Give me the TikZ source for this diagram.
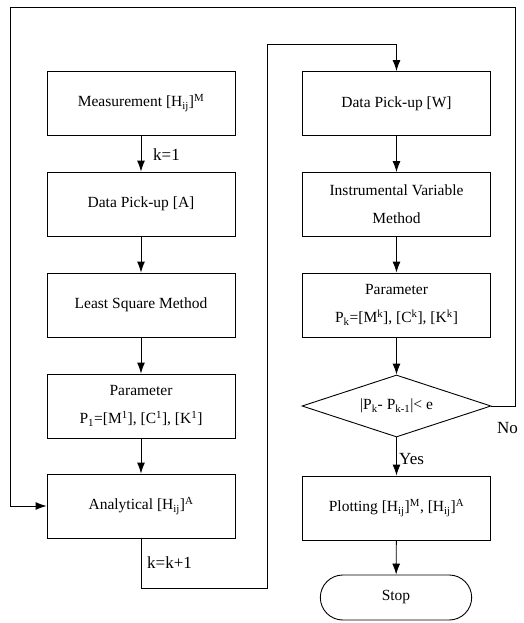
\documentclass[tikz,border=0pt]{standalone}
\usepackage{fontspec}
\setmainfont{Liberation Serif}
\usetikzlibrary{arrows.meta,shapes.geometric,shapes.misc}

\tikzset{
  box/.style={draw,line width=0.9pt,minimum width=188pt,minimum height=64pt,align=center,inner sep=2pt},
  arr/.style={-{Latex[length=11pt,width=8pt]},line width=0.9pt},
  lbl/.style={anchor=west,inner sep=0pt,font=\fontsize{17}{20}\selectfont}
}

\begin{document}
\begin{tikzpicture}[x=1pt,y=-1pt,font=\fontsize{15.5}{28}\selectfont]
\useasboundingbox (0,0) rectangle (523,623);

% Measurement
\node[box] (meas) at (141,103) {Measurement [H\textsubscript{ij}]\textsuperscript{M}};
% Data Pick-up A
\node[box] (pickA) at (141,204) {Data Pick-up [A]};
% Least Square
\node[box] (lsm) at (141,305) {Least Square Method};
% Parameter 1
\node[box] (parA) at (141,406) {Parameter\\P\textsubscript{1}=[M\textsuperscript{1}], [C\textsuperscript{1}], [K\textsuperscript{1}]};
% Analytical
\node[box] (anal) at (141,506) {Analytical [H\textsubscript{ij}]\textsuperscript{A}};

% Data Pick-up W
\node[box] (pickW) at (396.5,103.5) {Data Pick-up [W]};
% Instrumental Variable
\node[box] (ivm) at (396.5,204.5) {Instrumental Variable\\Method};
% Parameter k
\node[box] (parK) at (396.5,305) {Parameter\\P\textsubscript{k}=[M\textsuperscript{k}], [C\textsuperscript{k}], [K\textsuperscript{k}]};
% check
\node[draw,line width=0.9pt,diamond,aspect=3,inner sep=0pt,minimum width=189pt,minimum height=62pt] (dec) at (396.5,406) {|P\textsubscript{k}- P\textsubscript{k-1}|< e};
% Plotting
\node[box] (plot) at (396.5,508) {Plotting [H\textsubscript{ij}]\textsuperscript{M}, [H\textsubscript{ij}]\textsuperscript{A}};
% Stop
\node[draw,line width=0.9pt,rounded rectangle,minimum width=158pt,minimum height=45pt] (stop) at (396,597.5) {Stop};

% corners of the loops
\coordinate (topR) at (515,7);
\coordinate (topL) at (10,7);
\coordinate (botR) at (267,588);
\coordinate (midT) at (267,44);

\draw[arr] (meas) -- (pickA);
\draw[arr] (pickA) -- (lsm);
\draw[arr] (lsm) -- (parA);
\draw[arr] (parA) -- (anal);

\draw[arr] (pickW) -- (ivm);
\draw[arr] (ivm) -- (parK);
\draw[arr] (parK) -- (dec);
\draw[arr] (dec) -- (plot);
\draw[arr] (plot) -- (stop);

\draw[arr] (anal.south) |- (botR) -- (midT) -| (pickW.north);
\draw[arr] (dec.east) -| (topR) -- (topL) |- (anal.west);

% labels
\node[lbl] (k1) at (153,155) {k=1};
\node[lbl] (kk) at (147,563) {k=k+1};
\node[lbl] (yes) at (399,459) {Yes};
\node[lbl] (no) at (497,428) {No};

\end{tikzpicture}
\end{document}
